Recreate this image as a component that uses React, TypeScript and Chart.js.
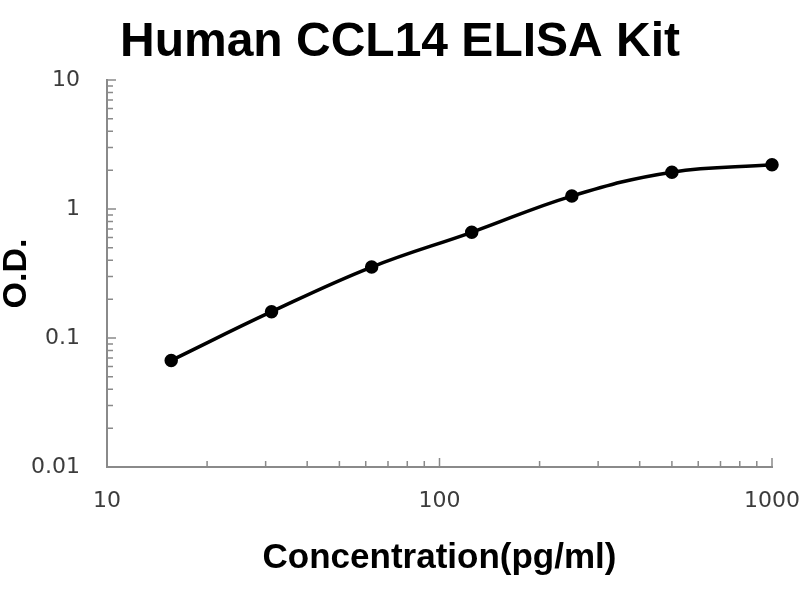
import React, { useEffect, useRef } from 'react';
import { Chart, registerables } from 'chart.js';

Chart.register(...registerables);

// ---- data ----
const concentrations = [15.6, 31.25, 62.5, 125, 250, 500, 1000];
const odValues = [0.067, 0.16, 0.355, 0.66, 1.26, 1.93, 2.2];
const xTickLabels = ['10', '100', '1000'];
const yTickLabels = ['0.01', '0.1', '1', '10'];
const chartTitle = 'Human CCL14 ELISA Kit';
const xTitle = 'Concentration(pg/ml)';
const yTitle = 'O.D.';

const AXIS_COLOR = '#8a8a8a';
const LABEL_COLOR = '#3c3c3c';
const BOLD_FONT = '"Liberation Sans", Arial, sans-serif';
const TICK_FONT = '"DejaVu Sans", sans-serif';

const findLabel = (labels: string[], value: number) =>
  labels.find((l) => Math.abs(Number(l) - value) < 1e-9 * Math.max(1, value)) ?? '';

const isIntMantissa = (v: number) => {
  const e = Math.floor(Math.log10(v) + 1e-9);
  const m = v / Math.pow(10, e);
  return Math.abs(m - Math.round(m)) < 1e-6;
};
const isMajor = (v: number) => Math.abs(Math.log10(v) - Math.round(Math.log10(v))) < 1e-6;

const innerTicks = {
  id: 'innerTicks',
  afterDraw(chart: any) {
    const { ctx, chartArea } = chart;
    const xs = chart.scales.x;
    const ys = chart.scales.y;
    ctx.save();
    ctx.strokeStyle = AXIS_COLOR;
    ctx.lineWidth = 1.5;
    ctx.beginPath();
    for (const t of xs.ticks) {
      if (!isIntMantissa(t.value)) continue;
      const px = xs.getPixelForValue(t.value);
      const len = isMajor(t.value) ? 9 : 6;
      ctx.moveTo(px, chartArea.bottom);
      ctx.lineTo(px, chartArea.bottom - len);
    }
    for (const t of ys.ticks) {
      if (!isIntMantissa(t.value)) continue;
      const py = ys.getPixelForValue(t.value);
      const len = isMajor(t.value) ? 9 : 6;
      ctx.moveTo(chartArea.left, py);
      ctx.lineTo(chartArea.left + len, py);
    }
    ctx.stroke();
    ctx.restore();
  },
};

export default function App() {
  const canvasRef = useRef<HTMLCanvasElement | null>(null);

  useEffect(() => {
    if (!canvasRef.current) return;
    const chart = new Chart(canvasRef.current, {
      type: 'line',
      data: {
        datasets: [
          {
            data: concentrations.map((c, i) => ({ x: c, y: odValues[i] })),
            borderColor: '#000',
            backgroundColor: '#000',
            borderWidth: 3.5,
            pointRadius: 5,
            pointBackgroundColor: '#000',
            pointBorderColor: '#000',
            tension: 0.4,
            fill: false,
            clip: false,
          },
        ],
      },
      options: {
        animation: false,
        responsive: true,
        maintainAspectRatio: false,
        layout: { padding: { left: 0, right: 0, top: 0, bottom: 0 } },
        plugins: {
          legend: { display: false },
          tooltip: { enabled: false },
          title: {
            display: true,
            text: chartTitle,
            color: '#000',
            font: { family: BOLD_FONT, size: 48, weight: 'bold', lineHeight: 1 },
            padding: { top: 19, bottom: 13 },
          },
        },
        scales: {
          x: {
            type: 'logarithmic',
            min: Number(xTickLabels[0]),
            max: Number(xTickLabels[xTickLabels.length - 1]),
            grid: { display: false, drawTicks: false },
            border: { display: true, color: AXIS_COLOR, width: 2 },
            ticks: {
              autoSkip: false,
              maxRotation: 0,
              padding: 21,
              color: LABEL_COLOR,
              font: { family: TICK_FONT, size: 22 },
              callback: (v: any) => findLabel(xTickLabels, Number(v)),
            },
            title: {
              display: true,
              text: xTitle,
              color: '#000',
              font: { family: BOLD_FONT, size: 35, weight: 'bold', lineHeight: 1 },
              padding: { top: 0, bottom: 24 },
            },
            afterFit: (scale: any) => {
              scale.height = 133;
              scale.paddingLeft = 0;
              scale.paddingRight = 28;
            },
          },
          y: {
            type: 'logarithmic',
            min: Number(yTickLabels[0]),
            max: Number(yTickLabels[yTickLabels.length - 1]),
            grid: { display: false, drawTicks: false },
            border: { display: true, color: AXIS_COLOR, width: 2 },
            ticks: {
              autoSkip: false,
              padding: 27,
              color: LABEL_COLOR,
              font: { family: TICK_FONT, size: 22 },
              callback: (v: any) => findLabel(yTickLabels, Number(v)),
            },
            title: {
              display: true,
              text: yTitle,
              color: '#000',
              font: { family: BOLD_FONT, size: 34, weight: 'bold', lineHeight: 1 },
              padding: { top: 0, bottom: 0 },
            },
            afterFit: (scale: any) => {
              scale.width = 107;
            },
          },
        },
      },
      plugins: [innerTicks],
    });
    return () => chart.destroy();
  }, []);

  return (
    <div style={{ position: 'fixed', left: 0, top: 0, width: 800, height: 600, background: '#fff' }}>
      <canvas ref={canvasRef} style={{ display: 'block' }} />
    </div>
  );
}
